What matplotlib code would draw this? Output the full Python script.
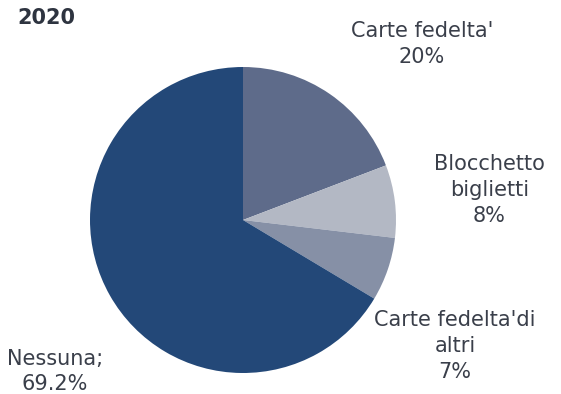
import matplotlib
matplotlib.use("Agg")
import matplotlib.pyplot as plt

categories = ["Carte fedelta'", "Blocchetto\nbiglietti", "Carte fedelta'di\naltri", "Nessuna;"]
values = [20, 8, 7, 69.2]
value_labels = ["20%", "8%", "7%", "69.2%"]
colors = ["#5e6b8a", "#b3b8c4", "#8690a6", "#234878"]
title = "2020"

W, H = 561, 394
fig = plt.figure(figsize=(W / 100, H / 100), dpi=100)
cx, cy, r = 243, 220, 153
ax = fig.add_axes([(cx - r) / W, (H - cy - r) / H, 2 * r / W, 2 * r / H])
ax.pie(values, colors=colors, startangle=90, counterclock=False, radius=1,
       wedgeprops=dict(linewidth=0))
ax.set_xlim(-1, 1)
ax.set_ylim(-1, 1)
ax.set_aspect("equal")
ax.axis("off")

label_pos = [(1.17, 1.15), (1.61, 0.196), (1.386, -0.824), (-1.229, -0.99)]
txtc = "#3a3f4a"
for cat, vl, (x, y) in zip(categories, value_labels, label_pos):
    s = cat + "\n" + vl
    ax.text(x, y, s, ha="center", va="center", fontsize=15, color=txtc,
            family="DejaVu Sans", linespacing=1.35, clip_on=False)

fig.text(17 / W, 1 - 18 / H, title, ha="left", va="center", fontsize=15,
         fontweight="bold", color="#2e3440")

fig.savefig("out.png", dpi=100)
